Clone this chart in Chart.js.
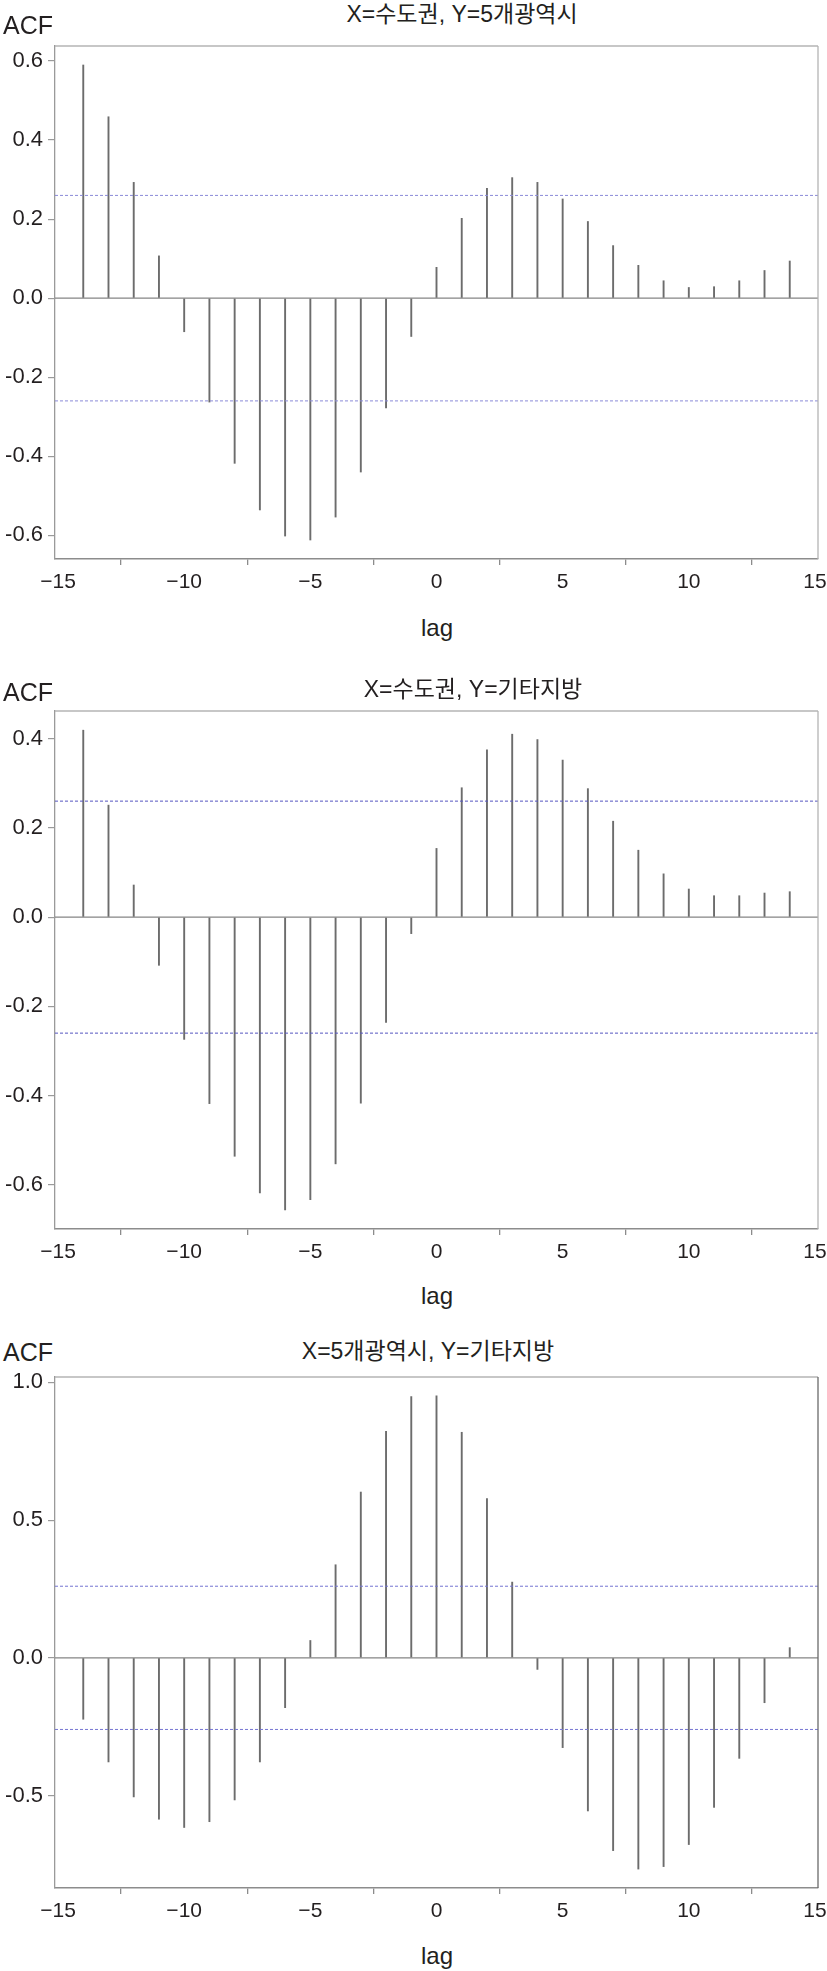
<!DOCTYPE html>
<html>
<head>
<meta charset="utf-8">
<script src="https://cdn.jsdelivr.net/npm/chart.js@4.4.1/dist/chart.umd.min.js"></script>
<style>
  body { margin: 0; background: #fff; width: 827px; height: 1971px; position: relative; overflow: hidden;
         font-family: "Liberation Sans", "Noto Sans CJK KR", sans-serif; color: #231f20; }
  canvas { position: absolute; left: 0; }
  .t { position: absolute; white-space: nowrap; line-height: 1; }
  .title { font-size: 23px; transform: translate(-50%, -50%); }
  .acf { font-size: 25px; left: 3px; transform: translateY(-50%); }
  .lag { font-size: 24px; transform: translateX(-50%); }
</style>
</head>
<body>
<canvas id="c1" width="827" height="563" style="top:36px"></canvas>
<canvas id="c2" width="827" height="568" style="top:701px"></canvas>
<canvas id="c3" width="827" height="561" style="top:1367px"></canvas>

<div class="t title" style="left:462px;top:14px">X=수도권, Y=5개광역시</div>
<div class="t acf" style="top:25px">ACF</div>
<div class="t lag" style="left:437px;top:616px">lag</div>

<div class="t title" style="left:473px;top:689px">X=수도권, Y=기타지방</div>
<div class="t acf" style="top:692px">ACF</div>
<div class="t lag" style="left:437px;top:1284px">lag</div>

<div class="t title" style="left:428px;top:1351px">X=5개광역시, Y=기타지방</div>
<div class="t acf" style="top:1352px">ACF</div>
<div class="t lag" style="left:437px;top:1944px">lag</div>

<script>
// Cross-correlation (ACF) by lag.
const lags = [-14, -13, -12, -11, -10, -9, -8, -7, -6, -5, -4, -3, -2, -1, 0,
              1, 2, 3, 4, 5, 6, 7, 8, 9, 10, 11, 12, 13, 14];

// X=수도권, Y=5개광역시
const acfSudoBig5 = [0.590, 0.459, 0.293, 0.107, -0.085, -0.263, -0.418, -0.536, -0.602, -0.612,
                     -0.554, -0.440, -0.278, -0.097, 0.078, 0.202, 0.278, 0.305, 0.293, 0.251,
                     0.194, 0.133, 0.083, 0.044, 0.027, 0.029, 0.044, 0.070, 0.094];
// X=수도권, Y=기타지방
const acfSudoOther = [0.419, 0.251, 0.072, -0.108, -0.274, -0.418, -0.536, -0.618, -0.656, -0.633,
                      -0.553, -0.417, -0.236, -0.037, 0.154, 0.290, 0.375, 0.410, 0.398, 0.352,
                      0.288, 0.215, 0.150, 0.097, 0.063, 0.048, 0.048, 0.054, 0.057];
// X=5개광역시, Y=기타지방
const acfBig5Other = [-0.223, -0.378, -0.505, -0.586, -0.616, -0.595, -0.516, -0.378, -0.181, 0.063,
                      0.338, 0.602, 0.822, 0.949, 0.951, 0.819, 0.578, 0.275, -0.042, -0.326,
                      -0.556, -0.700, -0.767, -0.758, -0.678, -0.543, -0.365, -0.163, 0.037];

const ciBound = 0.26;   // dashed significance band, +/-

const xTicks = [-15, -10, -5, 0, 5, 10, 15];
const yTicks1 = [-0.6, -0.4, -0.2, 0.0, 0.2, 0.4, 0.6];
const yTicks2 = [-0.6, -0.4, -0.2, 0.0, 0.2, 0.4];
const yTicks3 = [-0.5, 0.0, 0.5, 1.0];

const xFont = { family: "'Liberation Sans', Arial, sans-serif", size: 21 };
const yFont = { family: "'Liberation Sans', Arial, sans-serif", size: 22 };
const ink = "#231f20";

// R-style axis range: data range stretched by 4% each side
function rRange(v) {
  const lo = Math.min(...v), hi = Math.max(...v), d = (hi - lo) * 0.04;
  return [lo - d, hi + d];
}

const framePlugin = {
  id: "frame",
  afterDraw(chart, args, opts) {
    const { ctx, chartArea: a } = chart;
    ctx.save();
    ctx.lineWidth = 1.3;
    ctx.strokeStyle = "#b4b4b4";
    ctx.beginPath();
    ctx.moveTo(a.left, a.top); ctx.lineTo(a.right, a.top);
    ctx.stroke();
    ctx.strokeStyle = opts.right || "#b4b4b4";
    ctx.beginPath();
    ctx.moveTo(a.right, a.top); ctx.lineTo(a.right, a.bottom);
    ctx.stroke();
    ctx.restore();
  },
};

function hline(x0, x1, y, color, dash, width) {
  return { type: "line", data: [{ x: x0, y }, { x: x1, y }], borderColor: color,
           borderWidth: width, borderDash: dash, pointRadius: 0, fill: false };
}

function makeChart(id, values, yTicks, rightColor, ciColor) {
  const [xmin, xmax] = rRange(lags);
  const [ymin, ymax] = rRange(values);
  return new Chart(document.getElementById(id), {
    type: "bar",
    data: {
      datasets: [
        hline(xmin, xmax, ciBound, ciColor, [3, 2], 1),
        hline(xmin, xmax, -ciBound, ciColor, [3, 2], 1),
        hline(xmin, xmax, 0, "#858585", [], 1.2),
        { data: lags.map((x, i) => ({ x, y: values[i] })), backgroundColor: "#6c6c6c",
          barThickness: 1.25 },
      ],
    },
    options: {
      responsive: false, animation: false,
      layout: { padding: { top: 10, right: 827 - 818, left: 0, bottom: 0 } },
      plugins: { legend: { display: false }, tooltip: { enabled: false }, frame: { right: rightColor } },
      scales: {
        x: {
          type: "linear", min: xmin, max: xmax, offset: false,
          grid: { drawOnChartArea: false, tickLength: 6, color: "#8c8c8c", lineWidth: 1.3 },
          border: { color: "#8c8c8c", width: 1.5 },
          ticks: { font: xFont, color: ink, padding: 5, maxRotation: 0, autoSkip: false,
                   callback: (v) => (v < 0 ? "\u2212" + Math.abs(v) : String(v)) },
          afterBuildTicks: (s) => { s.ticks = xTicks.map((value) => ({ value })); },
          afterFit: (s) => { s.height = 40; s.paddingLeft = 0; s.paddingRight = 0; },
        },
        y: {
          min: ymin, max: ymax,
          grid: { drawOnChartArea: false, tickLength: 7, color: "#9a9a9a", lineWidth: 1.2 },
          border: { color: "#9a9a9a", width: 1.3 },
          ticks: { font: yFont, color: ink, padding: 5, callback: (v) => Number(v).toFixed(1) },
          afterBuildTicks: (s) => { s.ticks = yTicks.map((value) => ({ value })); },
          afterFit: (s) => { s.width = 55; s.paddingTop = 0; s.paddingBottom = 0; },
        },
      },
    },
    plugins: [framePlugin],
  });
}

makeChart("c1", acfSudoBig5, yTicks1, "#b4b4b4", "#8a8ad8");
makeChart("c2", acfSudoOther, yTicks2, "#b4b4b4", "#5555c0");
makeChart("c3", acfBig5Other, yTicks3, "#6a6a6a", "#7474d2");
</script>
</body>
</html>
